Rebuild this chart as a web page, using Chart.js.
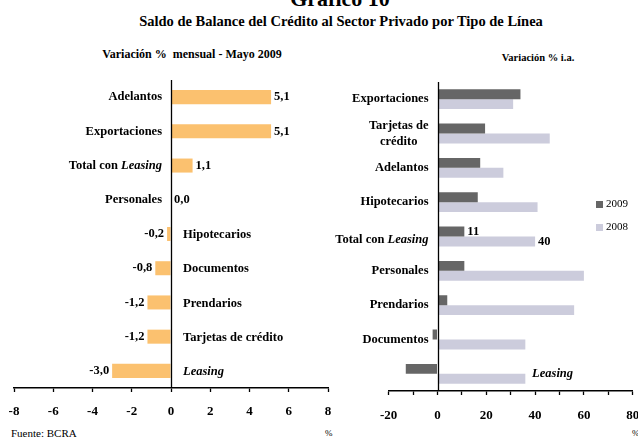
<!DOCTYPE html>
<html>
<head>
<meta charset="utf-8">
<script src="https://cdn.jsdelivr.net/npm/chart.js@4.4.0/dist/chart.umd.min.js"></script>
<style>
  html, body { margin: 0; padding: 0; width: 638px; height: 438px; overflow: hidden; background: #fff; }
  body { position: relative; font-family: "Liberation Serif", serif; color: #000; }
  .txt { position: absolute; white-space: nowrap; line-height: 1; }
  .centro { transform: translateX(-50%); }
  canvas { position: absolute; left: 0; top: 0; }
</style>
</head>
<body>
<div class="txt centro" style="left:340px; top:-12px; font-size:22px; font-weight:bold;">Gráfico 10</div>
<div class="txt centro" style="left:341px; top:14px; font-size:14.5px; font-weight:bold;">Saldo de Balance del Crédito al Sector Privado por Tipo de Línea</div>
<div class="txt centro" style="left:192px; top:48px; font-size:12px; font-weight:bold;">Variación %&nbsp; mensual - Mayo 2009</div>
<div class="txt centro" style="left:538px; top:53px; font-size:10.5px; font-weight:bold;">Variación % i.a.</div>
<div class="txt" style="left:11px; top:428px; font-size:11px;">Fuente: BCRA</div>
<div class="txt" style="left:325px; top:429px; font-size:9px;">%</div>
<div class="txt" style="left:632px; top:429px; font-size:9px;">%</div>

<canvas id="grafMensual" width="638" height="438"></canvas>
<canvas id="grafAnual" width="660" height="438"></canvas>

<script>
// Datos del gráfico
const categoriasMensual = ['Adelantos', 'Exportaciones', 'Total con Leasing', 'Personales', 'Hipotecarios',
                           'Documentos', 'Prendarios', 'Tarjetas de crédito', 'Leasing'];
const variacionMensual = [5.1, 5.1, 1.1, 0.0, -0.2, -0.8, -1.2, -1.2, -3.0];

const categoriasAnual = ['Exportaciones', ['Tarjetas de', 'crédito'], 'Adelantos', 'Hipotecarios', 'Total con Leasing',
                         'Personales', 'Prendarios', 'Documentos', 'Leasing'];
const variacion2009 = [34, 19.5, 17.5, 16.5, 11, 11, 4, -2, -13];
const variacion2008 = [31, 46, 27, 41, 40, 60, 56, 36, 36];
const series = ['2009', '2008'];

const FUENTE = '"Liberation Serif", serif';

// Escribe un texto poniendo en cursiva la palabra "Leasing"
function dibujarTexto(ctx, texto, x, y, align, size) {
    const partes = texto.split(/(Leasing)/).filter(p => p);
    const fuente = p => (p === 'Leasing' ? 'italic bold ' : 'bold ') + size + 'px ' + FUENTE;
    let total = 0;
    partes.forEach(p => { ctx.font = fuente(p); total += ctx.measureText(p).width; });
    let cx = align === 'right' ? x - total : (align === 'center' ? x - total / 2 : x);
    ctx.textAlign = 'left';
    partes.forEach(p => {
        ctx.font = fuente(p);
        ctx.fillText(p, cx, y);
        cx += ctx.measureText(p).width;
    });
}

function lineaCero(chart) {
    const { ctx, scales: { x }, chartArea } = chart;
    const x0 = Math.round(x.getPixelForValue(0)) + 0.5;
    ctx.strokeStyle = '#000';
    ctx.lineWidth = 1.3;
    ctx.beginPath();
    ctx.moveTo(x0, chartArea.top);
    ctx.lineTo(x0, chartArea.bottom);
    ctx.stroke();
}

// Etiquetas del gráfico mensual
const etiquetasMensual = {
    id: 'etiquetasMensual',
    afterDatasetsDraw(chart) {
        const { ctx, scales: { x, y } } = chart;
        const x0 = x.getPixelForValue(0);
        ctx.save();
        lineaCero(chart);
        ctx.fillStyle = '#000';
        ctx.textBaseline = 'middle';
        chart.data.labels.forEach((lab, i) => {
            const v = chart.data.datasets[0].data[i];
            const yy = y.getPixelForValue(i);
            const xv = x.getPixelForValue(v);
            const txt = v.toFixed(1).replace('.', ',');
            if (v >= 0) {
                dibujarTexto(ctx, lab, x0 - 9, yy, 'right', 12.5);
                ctx.font = 'bold 12.5px ' + FUENTE;
                ctx.textAlign = 'left';
                ctx.fillText(txt, Math.max(xv, x0) + 3, yy);
            } else {
                dibujarTexto(ctx, lab, x0 + 12, yy + 1, 'left', 12.5);
                ctx.font = 'bold 12.5px ' + FUENTE;
                ctx.textAlign = 'right';
                ctx.fillText(txt, xv - 3, yy);
            }
        });
        ctx.restore();
    }
};

// Etiquetas y leyenda del gráfico interanual
const etiquetasAnual = {
    id: 'etiquetasAnual',
    afterDatasetsDraw(chart) {
        const { ctx, scales: { x, y } } = chart;
        const x0 = x.getPixelForValue(0);
        ctx.save();
        lineaCero(chart);
        ctx.fillStyle = '#000';
        ctx.textBaseline = 'middle';
        chart.data.labels.forEach((lab, i) => {
            const yy = y.getPixelForValue(i);
            if (Array.isArray(lab)) {
                ctx.font = 'bold 12.5px ' + FUENTE;
                const ancho = Math.max(...lab.map(l => ctx.measureText(l).width));
                lab.forEach((l, k) => dibujarTexto(ctx, l, x0 - 9 - ancho / 2, yy + (k - (lab.length - 1) / 2) * 16, 'center', 12.5));
            } else if (lab === 'Leasing') {
                dibujarTexto(ctx, lab, x.getPixelForValue(40) - 3, yy, 'left', 12.5);
            } else {
                dibujarTexto(ctx, lab, x0 - 9, yy + (lab === 'Total con Leasing' ? 3 : 0), 'right', 12.5);
            }
        });
        // valores del total
        const iTotal = chart.data.labels.indexOf('Total con Leasing');
        chart.data.datasets.forEach((ds, d) => {
            const barra = chart.getDatasetMeta(d).data[iTotal];
            ctx.font = 'bold 12.5px ' + FUENTE;
            ctx.textAlign = 'left';
            ctx.fillText(String(Math.round(ds.data[iTotal])), barra.x + 3, barra.y);
        });
        // leyenda
        chart.data.datasets.forEach((ds, d) => {
            const ly = 204.5 + d * 23;
            ctx.fillStyle = ds.backgroundColor;
            ctx.fillRect(596, ly - 3.5, 7, 7);
            ctx.fillStyle = '#000';
            ctx.font = '11px ' + FUENTE;
            ctx.textAlign = 'left';
            ctx.fillText(ds.label, 606, ly);
        });
        ctx.restore();
    }
};

function ejeX(min, max, paso, alto, relleno, conEtiqueta) {
    return {
        type: 'linear',
        min: min,
        max: max,
        afterFit: scale => {
            scale.height = alto;
            scale.paddingLeft = 0;
            scale.paddingRight = 0;
        },
        grid: { drawOnChartArea: false, drawTicks: true, tickLength: 4, tickColor: '#000', tickWidth: 1.3 },
        border: { color: '#000', width: 1.5 },
        ticks: {
            stepSize: paso,
            autoSkip: false,
            maxRotation: 0,
            padding: relleno,
            color: '#000',
            font: { family: FUENTE, weight: 'bold', size: 13 },
            callback: conEtiqueta
        }
    };
}

Chart.defaults.font.family = FUENTE;

new Chart(document.getElementById('grafMensual'), {
    type: 'bar',
    data: {
        labels: categoriasMensual,
        datasets: [{
            data: variacionMensual,
            backgroundColor: '#FBC16F',
            categoryPercentage: 1,
            barPercentage: 0.41
        }]
    },
    options: {
        indexAxis: 'y',
        responsive: false,
        animation: false,
        layout: { padding: { left: 14, right: 310, top: 80, bottom: 0 } },
        plugins: { legend: { display: false }, tooltip: { enabled: false } },
        scales: {
            x: ejeX(-8, 8, 2, 50, 12, v => v),
            y: { display: false }
        }
    },
    plugins: [etiquetasMensual]
});

new Chart(document.getElementById('grafAnual'), {
    type: 'bar',
    data: {
        labels: categoriasAnual,
        datasets: [{
            label: series[0],
            data: variacion2009,
            backgroundColor: '#666666',
            categoryPercentage: 0.58,
            barPercentage: 1
        }, {
            label: series[1],
            data: variacion2008,
            backgroundColor: '#CCCCDC',
            categoryPercentage: 0.58,
            barPercentage: 1
        }]
    },
    options: {
        indexAxis: 'y',
        responsive: false,
        animation: false,
        layout: { padding: { left: 388.7, right: 27.3, top: 82, bottom: 0 } },
        plugins: { legend: { display: false }, tooltip: { enabled: false } },
        scales: {
            x: ejeX(-20, 80, 10, 47, 13, v => (v % 20 === 0 ? v : '')),
            y: { display: false }
        }
    },
    plugins: [etiquetasAnual]
});
</script>
</body>
</html>
